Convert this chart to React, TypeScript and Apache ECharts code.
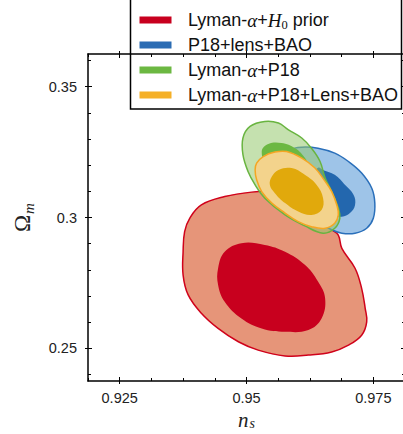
import React, { useEffect, useRef } from 'react';
import * as echarts from 'echarts';

// ---- axis ranges & ticks ----
const X_MIN = 0.91875;
const X_MAX = 0.98125;
const Y_MIN = 0.2375;
const Y_MAX = 0.3625;
const xMajorTicks = [0.925, 0.95, 0.975];
const xTickLabels = ['0.925', '0.95', '0.975'];
const xMinorTicks = [0.91875, 0.925, 0.93125, 0.9375, 0.94375, 0.95, 0.95625, 0.9625, 0.96875, 0.975, 0.98125];
const yMajorTicks = [0.25, 0.3, 0.35];
const yTickLabels = ['0.25', '0.3', '0.35'];
const yMinorTicks = [0.24, 0.25, 0.26, 0.27, 0.28, 0.29, 0.3, 0.31, 0.32, 0.33, 0.34, 0.35, 0.36];

// ---- legend ----
const legendLabels = [
  'Lyman-{m|α}+{m|H}{sub|0} prior',
  'P18+lens+BAO',
  'Lyman-{m|α}+P18',
  'Lyman-{m|α}+P18+Lens+BAO',
];
const legendColors = ['#c8001e', '#2b6cb3', '#6cb842', '#f5b027'];

// ---- contours: [n_s, Omega_m] ----
const redOuter: [number, number][] = [
  [0.9388, 0.2997], [0.9411, 0.3048], [0.9457, 0.308], [0.951, 0.3097], [0.955, 0.3099],
  [0.9576, 0.3087], [0.9609, 0.3048], [0.9641, 0.2997], [0.9668, 0.2953], [0.9681, 0.2933],
  [0.9688, 0.2882], [0.9714, 0.2806], [0.9727, 0.2729], [0.9734, 0.2653], [0.9737, 0.2601],
  [0.9727, 0.255], [0.9701, 0.2512], [0.9668, 0.2486], [0.9622, 0.2474], [0.9576, 0.2471],
  [0.9523, 0.2493], [0.9484, 0.2525], [0.9444, 0.2576], [0.9411, 0.2634], [0.9385, 0.2704],
  [0.9375, 0.278], [0.9375, 0.2869], [0.9378, 0.2946],
];
const redInner: [number, number][] = [
  [0.9444, 0.2806], [0.9457, 0.2869], [0.949, 0.2902], [0.9536, 0.2895], [0.9576, 0.2869],
  [0.9615, 0.2819], [0.9641, 0.2755], [0.9655, 0.2691], [0.9648, 0.2614], [0.9622, 0.257],
  [0.9576, 0.2563], [0.953, 0.2576], [0.949, 0.2614], [0.9457, 0.2678], [0.9444, 0.2742],
];
const blueOuter: [number, number][] = [
  [0.9586, 0.3259], [0.9609, 0.3269], [0.9641, 0.3265], [0.9674, 0.3246], [0.9701, 0.3214],
  [0.9727, 0.317], [0.9747, 0.3112], [0.9753, 0.3055], [0.975, 0.2997], [0.9737, 0.2959],
  [0.9714, 0.294], [0.9688, 0.294], [0.9668, 0.2953], [0.9641, 0.2983], [0.9611, 0.3037],
  [0.959, 0.3106], [0.9578, 0.3182], [0.9576, 0.3232],
];
const blueInner: [number, number][] = [
  [0.9641, 0.319], [0.9651, 0.3182], [0.9674, 0.3163], [0.9694, 0.3125], [0.9711, 0.3087],
  [0.9714, 0.3048], [0.9704, 0.3017], [0.9688, 0.3003], [0.9671, 0.301], [0.9649, 0.3048],
  [0.9631, 0.3106], [0.9629, 0.3156],
];
const greenOuter: [number, number][] = [
  [0.9493, 0.3304], [0.9507, 0.3348], [0.9536, 0.3367], [0.9563, 0.3361], [0.9582, 0.3336],
  [0.9609, 0.3304], [0.9628, 0.3265], [0.9645, 0.3214], [0.9655, 0.3151], [0.9668, 0.3099],
  [0.9681, 0.3036], [0.9684, 0.2997], [0.9674, 0.2959], [0.9651, 0.294], [0.9615, 0.2968],
  [0.9576, 0.301], [0.9536, 0.3074], [0.9517, 0.3125], [0.9503, 0.3176], [0.9493, 0.324],
];
const greenInner: [number, number][] = [
  [0.953, 0.3252], [0.9543, 0.3281], [0.9569, 0.3285], [0.9596, 0.3265], [0.9615, 0.3228],
  [0.9629, 0.3175], [0.9633, 0.3113], [0.9621, 0.3075], [0.9596, 0.3083], [0.9566, 0.3125],
  [0.9542, 0.3182],
];
const orangeOuter: [number, number][] = [
  [0.952, 0.3208], [0.9533, 0.3233], [0.9556, 0.325], [0.9579, 0.3252], [0.9609, 0.3227],
  [0.9635, 0.3189], [0.9655, 0.3138], [0.9668, 0.3099], [0.9678, 0.3048], [0.9681, 0.301],
  [0.9674, 0.2978], [0.9655, 0.2959], [0.9628, 0.2965], [0.9602, 0.2984], [0.9576, 0.3017],
  [0.955, 0.3055], [0.953, 0.3099], [0.952, 0.3144], [0.9517, 0.3182],
];
const orangeInner: [number, number][] = [
  [0.955, 0.3157], [0.9563, 0.3182], [0.9589, 0.3189], [0.9615, 0.3163], [0.9638, 0.3125],
  [0.9651, 0.3074], [0.9648, 0.3029], [0.9628, 0.301], [0.9602, 0.3023], [0.9576, 0.3055],
  [0.9556, 0.3093], [0.9546, 0.3125],
];

const fmtX = (v: number) => {
  const i = xMajorTicks.findIndex((t) => Math.abs(t - v) < 1e-9);
  return i >= 0 ? xTickLabels[i] : '';
};
const fmtY = (v: number) => {
  const i = yMajorTicks.findIndex((t) => Math.abs(t - v) < 1e-9);
  return i >= 0 ? yTickLabels[i] : '';
};

const TICK = { color: '#000', width: 1 };
const LABEL_FONT = { fontFamily: 'Liberation Sans', fontSize: 14.5, color: '#222' };

function baseX(position: string, extra: any) {
  return {
    type: 'value', gridIndex: 0, position, min: X_MIN, max: X_MAX,
    axisLine: { show: false, onZero: false },
    splitLine: { show: false },
    axisLabel: { show: false },
    axisTick: { show: false },
    ...extra,
  };
}
function baseY(position: string, extra: any) {
  return {
    type: 'value', gridIndex: 0, position, min: Y_MIN, max: Y_MAX,
    axisLine: { show: false, onZero: false },
    splitLine: { show: false },
    axisLabel: { show: false },
    axisTick: { show: false },
    ...extra,
  };
}

function contour(pts: [number, number][], fill: string, stroke: string | null, z: number, smooth = 0.4) {
  return {
    type: 'custom',
    coordinateSystem: 'cartesian2d',
    xAxisIndex: 0,
    yAxisIndex: 0,
    silent: true,
    clip: true,
    z,
    data: [pts[0]],
    renderItem: (_params: any, api: any) => ({
      type: 'polygon',
      shape: { points: pts.map((p) => api.coord(p)), smooth },
      style: stroke
        ? { fill, stroke, lineWidth: 1.5 }
        : { fill, stroke: 'none' },
    }),
  };
}

export default function App() {
  const ref = useRef<HTMLDivElement>(null);
  useEffect(() => {
    if (!ref.current) return;
    const chart = echarts.init(ref.current, null, { renderer: 'svg' });

    const majorIn = (vals: number[]) => ({ show: true, inside: true, length: 4, customValues: vals, lineStyle: TICK });
    const majorOut = (vals: number[]) => ({ show: true, inside: false, length: 3, customValues: vals, lineStyle: TICK });
    const minorIn = (vals: number[]) => ({ show: true, inside: true, length: 3, customValues: vals, lineStyle: TICK });
    const line = { show: true, onZero: false, lineStyle: { color: '#000', width: 1.5 } };

    const xAxis = [
      baseX('bottom', {
        axisLine: line,
        axisTick: majorIn(xMajorTicks),
        axisLabel: { show: true, customValues: xMajorTicks, formatter: fmtX, margin: 9, ...LABEL_FONT },
        name: '{n|n}{s|s}',
        nameLocation: 'middle',
        nameGap: 28,
        nameTextStyle: {
          lineHeight: 20,
          rich: {
            n: { fontFamily: 'Liberation Serif', fontStyle: 'italic', fontSize: 21, color: '#222', lineHeight: 20 },
            s: { fontFamily: 'Liberation Serif', fontStyle: 'italic', fontSize: 14, color: '#222', lineHeight: 12, padding: [7, 0, 0, 1] },
          },
        },
      }),
      baseX('bottom', { axisTick: majorOut(xMajorTicks) }),
      baseX('bottom', { axisTick: minorIn(xMinorTicks) }),
      baseX('top', { axisLine: line, axisTick: majorIn(xMajorTicks) }),
      baseX('top', { axisTick: majorOut(xMajorTicks) }),
      baseX('top', { axisTick: minorIn(xMinorTicks) }),
    ];
    const yAxis = [
      baseY('left', {
        axisLine: line,
        axisTick: majorIn(yMajorTicks),
        axisLabel: { show: true, customValues: yMajorTicks, formatter: fmtY, margin: 11, ...LABEL_FONT },
        name: '{o|Ω}{m|m}',
        nameLocation: 'middle',
        nameGap: 52,
        nameTextStyle: {
          rich: {
            o: { fontFamily: 'Liberation Serif', fontSize: 23, color: '#222' },
            m: { fontFamily: 'Liberation Serif', fontStyle: 'italic', fontSize: 15, color: '#222', padding: [12, 0, 0, 1] },
          },
        },
      }),
      baseY('left', { axisTick: majorOut(yMajorTicks) }),
      baseY('left', { axisTick: minorIn(yMinorTicks) }),
      baseY('right', { axisLine: line, axisTick: majorIn(yMajorTicks) }),
      baseY('right', { axisTick: majorOut(yMajorTicks) }),
      baseY('right', { axisTick: minorIn(yMinorTicks) }),
    ];

    const legendChildren: any[] = [
      {
        type: 'rect',
        shape: { x: 130.5, y: -4, width: 271, height: 113 },
        style: { fill: '#fff', stroke: '#000', lineWidth: 1.5 },
      },
    ];
    legendLabels.forEach((lab, i) => {
      const cy = 20 + i * 25;
      legendChildren.push({
        type: 'rect',
        shape: { x: 139.5, y: cy - 3.5, width: 32, height: 7 },
        style: { fill: legendColors[i] },
      });
      legendChildren.push({
        type: 'text',
        x: 188,
        y: cy,
        style: {
          text: lab,
          fontFamily: 'Liberation Sans',
          fontSize: 18,
          fill: '#111',
          verticalAlign: 'middle',
          rich: {
            m: { fontFamily: 'Liberation Serif', fontStyle: 'italic', fontSize: 19, fill: '#111' },
            sub: { fontFamily: 'Liberation Serif', fontSize: 12.5, fill: '#111', padding: [9, 0, 0, 0] },
          },
        },
      });
    });

    chart.setOption({
      animation: false,
      backgroundColor: '#fff',
      grid: { left: 88, top: 54, right: -2, bottom: 53, containLabel: false, outerBoundsMode: 'none' },
      xAxis,
      yAxis,
      series: [
        contour(redOuter, '#e69579', '#d0021b', 1),
        contour(redInner, '#c8001e', null, 2),
        contour(blueOuter, '#9ec4e8', '#2a6fba', 3),
        contour(blueInner, '#2367ae', null, 4),
        contour(greenOuter, 'rgba(150,200,110,0.55)', '#69b440', 5),
        contour(greenInner, '#6cb842', null, 6),
        contour(orangeOuter, '#f3d38c', '#f5a623', 7),
        contour(orangeInner, '#e1a90c', null, 8),
      ],
      graphic: [{ type: 'group', z: 100, children: legendChildren }],
    });
    return () => chart.dispose();
  }, []);
  return <div ref={ref} style={{ position: 'absolute', left: 0, top: 0, width: 403, height: 434 }} />;
}
